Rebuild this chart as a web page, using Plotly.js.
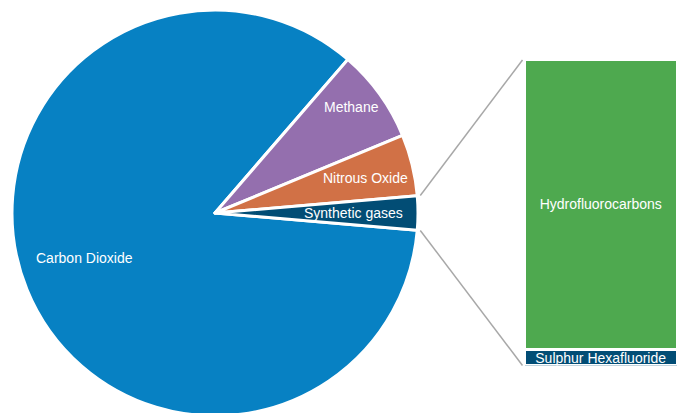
<!DOCTYPE html>
<html>
<head>
<meta charset="utf-8">
<script src="https://cdn.plot.ly/plotly-3.0.1.min.js"></script>
<style>
html,body{margin:0;padding:0;overflow:hidden;background:#fff;}
#chart{width:677px;height:417px;}
</style>
</head>
<body>
<div id="chart"></div>
<script>
// Greenhouse gas shares (%)
var gasLabels = ["Carbon Dioxide", "Methane", "Nitrous Oxide", "Synthetic gases"];
var gasValues = [85.0, 7.4, 4.9, 2.7];
var gasColors = ["#0781c3", "#946fae", "#d17146", "#024d75"];

// Breakdown of synthetic gases (%)
var synLabels = ["Hydrofluorocarbons", "Sulphur Hexafluoride"];
var synValues = [2.56, 0.14];
var synColors = ["#4ea94f", "#024d75"];

// label placement (radius fraction, angular shift in degrees) - layout only
var labelRadius = [0.68, 0.85, 0.76, 0.68];
var labelShift = [-3, 2, -0.5, 0];

var W = 677, H = 417, MT = 9;
var plotH = H - MT;
var pieDomX = [12 / W, 418 / W];
var barDomX = [524.5 / W, 1];
var barDomY = [(H - 365.5) / plotH, (H - 59) / plotH];

var total = gasValues.reduce(function (a, b) { return a + b; }, 0);
var synShare = gasValues[3] / total;
var rotation = 90 + synShare * 180;

var font = "Liberation Sans, Arial, sans-serif";
var fs = 14;

var pie = {
  type: "pie",
  labels: gasLabels,
  values: gasValues,
  sort: false,
  direction: "clockwise",
  rotation: rotation,
  marker: { colors: gasColors, line: { color: "#ffffff", width: 3 } },
  textinfo: "none",
  domain: { x: pieDomX, y: [0, 1] },
  showlegend: false,
  hoverinfo: "label+percent"
};

var barTraces = synLabels.map(function (lab, i) {
  return {
    type: "bar",
    x: ["Synthetic"],
    y: [synValues[i]],
    name: lab,
    text: [lab],
    textposition: "inside",
    insidetextanchor: "middle",
    constraintext: "none",
    textfont: { color: "#ffffff", size: fs, family: font },
    marker: { color: synColors[i], line: { color: "#ffffff", width: 3 } },
    xaxis: "x",
    yaxis: "y",
    showlegend: false,
    hoverinfo: "name+y"
  };
});
barTraces.reverse();

var synTotal = synValues.reduce(function (a, b) { return a + b; }, 0);

var cxPx = (pieDomX[0] + pieDomX[1]) / 2 * W;
var rPx = (pieDomX[1] - pieDomX[0]) * W / 2;
var cyPx = MT + plotH / 2;
function toPaper(px, py) { return [px / W, (H - py) / plotH]; }

// pie labels as annotations at slice mid-angles
var annotations = [];
var startDeg = 90 - rotation; // math angle of first slice start
var acc = 0;
gasValues.forEach(function (v, i) {
  var span = v / total * 360;
  var mid = startDeg - acc - span / 2 + labelShift[i];
  acc += span;
  var a = mid * Math.PI / 180;
  var r = rPx * labelRadius[i];
  var p = toPaper(cxPx + r * Math.cos(a), cyPx - r * Math.sin(a));
  annotations.push({
    xref: "paper", yref: "paper", x: p[0], y: p[1],
    xanchor: "center", yanchor: "middle",
    text: gasLabels[i], showarrow: false,
    font: { color: "#ffffff", size: fs, family: font }
  });
});

// connector lines
var half = synShare * Math.PI;
var rr = rPx * 1.015;
var pTop = toPaper(cxPx + rr * Math.cos(half), cyPx - rr * Math.sin(half));
var pBot = toPaper(cxPx + rr * Math.cos(half), cyPx + rr * Math.sin(half));
var barLeft = barDomX[0] - 2 / W;
var lineStyle = { color: "#a8a8a8", width: 1.5 };
var shapes = [
  { type: "line", xref: "paper", yref: "paper", x0: pTop[0], y0: pTop[1], x1: barLeft, y1: barDomY[1] - 1 / plotH, line: lineStyle },
  { type: "line", xref: "paper", yref: "paper", x0: pBot[0], y0: pBot[1], x1: barLeft, y1: barDomY[0], line: lineStyle }
];

var layout = {
  width: W,
  height: H,
  margin: { l: 0, r: 0, t: MT, b: 0, pad: 0 },
  paper_bgcolor: "#ffffff",
  plot_bgcolor: "rgba(0,0,0,0)",
  barmode: "stack",
  bargap: 0,
  xaxis: { domain: barDomX, visible: false, fixedrange: true },
  yaxis: { domain: barDomY, range: [0, synTotal], visible: false, fixedrange: true },
  shapes: shapes,
  annotations: annotations,
  font: { family: font },
  showlegend: false
};

Plotly.newPlot("chart", [pie].concat(barTraces), layout, { displayModeBar: false, staticPlot: true });
</script>
</body>
</html>
